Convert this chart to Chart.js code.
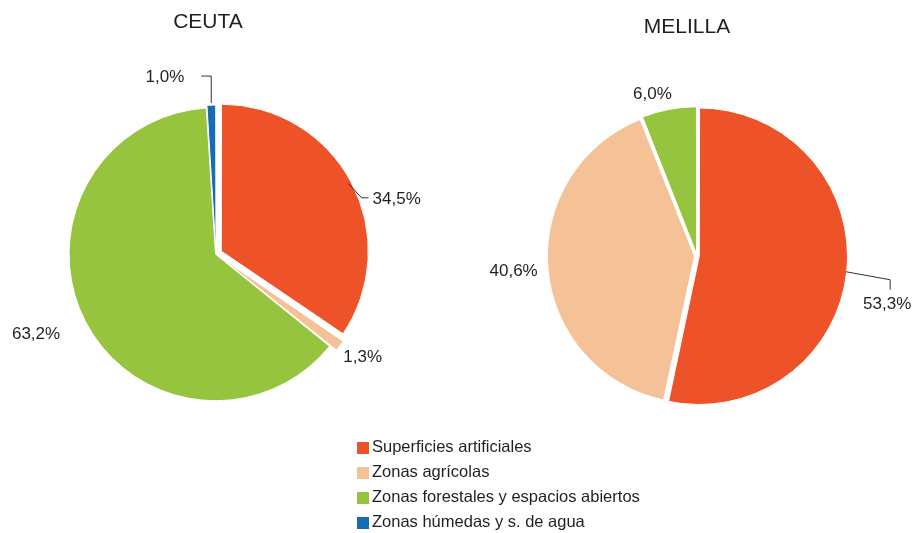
<!DOCTYPE html>
<html><head><meta charset="utf-8">
<script src="https://cdn.jsdelivr.net/npm/chart.js@4"></script>
<style>
html,body{margin:0;padding:0;background:#fff;width:915px;height:533px;overflow:hidden;}
canvas{position:absolute;left:0;top:0;}
#legend{position:absolute;left:357px;top:434px;font-family:"Liberation Sans",Arial,sans-serif;font-size:16.5px;color:#231f20;}
.row{display:flex;align-items:center;height:25px;white-space:nowrap;}
.sw{width:12px;height:12px;margin-right:3px;margin-top:2px;flex:none;}
</style></head><body>
<canvas id="c1" width="915" height="533"></canvas>
<canvas id="c2" width="915" height="533"></canvas>
<div id="legend"></div>
<script>
const categories = ['Superficies artificiales', 'Zonas agrícolas', 'Zonas forestales y espacios abiertos', 'Zonas húmedas y s. de agua'];
const ceutaValues = [34.5, 1.3, 63.2, 1.0];
const melillaValues = [53.3, 40.6, 6.0, 0.0];
const titles = ['CEUTA', 'MELILLA'];
const colors = ['#EE5228', '#F5C298', '#97C43E', '#166CB7'];

const FONT = '"Liberation Sans", Arial, sans-serif';
const TEXT = '#231f20';

const titlePlugin = {
  id: 'pieTitle',
  afterDraw(chart, args, o) {
    const ctx = chart.ctx, a = chart.chartArea;
    ctx.save();
    ctx.font = '21px ' + FONT;
    ctx.fillStyle = TEXT;
    ctx.textAlign = 'center';
    ctx.textBaseline = 'middle';
    ctx.fillText(o.text, (a.left + a.right) / 2 + o.dx, o.y);
    ctx.restore();
  }
};

const labelPlugin = {
  id: 'pieLabels',
  afterDatasetsDraw(chart, args, o) {
    const ctx = chart.ctx;
    const meta = chart.getDatasetMeta(0);
    const data = chart.data.datasets[0].data;
    ctx.save();
    ctx.font = '17px ' + FONT;
    ctx.fillStyle = TEXT;
    ctx.strokeStyle = '#333333';
    ctx.lineWidth = 1;
    ctx.textBaseline = 'middle';
    meta.data.forEach((arc, i) => {
      const v = data[i];
      if (!v) return;
      const cfg = o.place[i];
      const mid = (arc.startAngle + arc.endAngle) / 2;
      const ux = Math.cos(mid), uy = Math.sin(mid);
      const txt = v.toFixed(1).replace('.', ',') + '%';
      if (cfg.leader) {
        const r0 = arc.outerRadius + cfg.rim;
        let px = arc.x + ux * r0, py = arc.y + uy * r0;
        ctx.beginPath();
        ctx.moveTo(px, py);
        cfg.leader.forEach(s => { px += s[0]; py += s[1]; ctx.lineTo(px, py); });
        ctx.stroke();
        ctx.textAlign = cfg.align;
        ctx.fillText(txt, px + cfg.text[0], py + cfg.text[1]);
      } else {
        ctx.textAlign = 'center';
        ctx.fillText(txt, arc.x + ux * cfg.r + (cfg.dx || 0), arc.y + uy * cfg.r + (cfg.dy || 0));
      }
    });
    ctx.restore();
  }
};

function makePie(id, values, title, padding, offsets, place, titleOpt) {
  return new Chart(document.getElementById(id), {
    type: 'pie',
    data: {
      labels: categories,
      datasets: [{
        data: values,
        backgroundColor: colors,
        borderColor: '#ffffff',
        borderWidth: 1,
        offset: offsets
      }]
    },
    options: {
      responsive: false,
      animation: false,
      radius: 146,
      layout: { padding: padding },
      events: [],
      plugins: {
        legend: { display: false },
        tooltip: { enabled: false },
        pieTitle: { text: title, dx: titleOpt.dx, y: titleOpt.y },
        pieLabels: { place: place }
      }
    },
    plugins: [titlePlugin, labelPlugin]
  });
}

makePie('c1', ceutaValues, titles[0],
  { left: 0, right: 483, top: 0, bottom: 25 },
  [24, 17, 2, 6],
  [
    { leader: [[13, 14], [7, 0]], rim: 4, text: [4, 2], align: 'left' },
    { r: 180, dx: 2, dy: -4 },
    { r: 197, dx: -5, dy: -10 },
    { leader: [[0, -27], [-10, 0]], rim: 5, text: [-17, 1], align: 'right' }
  ],
  { dx: -8, y: 22 });

makePie('c2', melillaValues, titles[1],
  { left: 479, right: 0, top: 0, bottom: 21 },
  [9, 10, 8, 0],
  [
    { leader: [[44, 8], [0, 10]], rim: 4, text: [-3, 15], align: 'center' },
    { r: 184 },
    { r: 168, dx: -13, dy: 3 },
    null
  ],
  { dx: -10, y: 27 });

const legend = document.getElementById('legend');
categories.forEach((c, i) => {
  const row = document.createElement('div');
  row.className = 'row';
  const sw = document.createElement('span');
  sw.className = 'sw';
  sw.style.background = colors[i];
  const t = document.createElement('span');
  t.textContent = c;
  row.appendChild(sw);
  row.appendChild(t);
  legend.appendChild(row);
});
</script>
</body></html>
